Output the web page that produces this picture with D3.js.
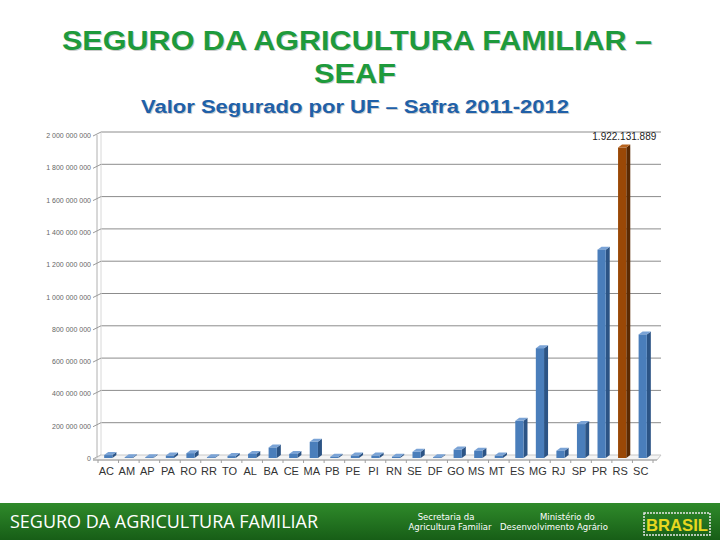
<!DOCTYPE html>
<html>
<head>
<meta charset="utf-8">
<script src="https://cdn.jsdelivr.net/npm/d3@7"></script>
<style>
  body { margin: 0; background: #fff; }
  svg { display: block; }
</style>
</head>
<body>
<svg id="chart"></svg>
<script>
var width = 720,
    height = 540;

// valores (R$)
var ufs = ["AC","AM","AP","PA","RO","RR","TO","AL","BA","CE","MA","PB","PE","PI","RN","SE","DF","GO","MS","MT","ES","MG","RJ","SP","PR","RS","SC"];
var valores = [18e6, 5e6, 5e6, 15e6, 30e6, 5e6, 12e6, 25e6, 65e6, 25e6, 100e6, 8e6, 15e6, 15e6, 8e6, 38e6, 5e6, 52e6, 45e6, 15e6, 230e6, 680e6, 45e6, 210e6, 1290e6, 1922131889, 765e6];
var yTicks = [0, 200e6, 400e6, 600e6, 800e6, 1000e6, 1200e6, 1400e6, 1600e6, 1800e6, 2000e6];
var destaque = "RS";
var rotuloDestaque = "1.922.131.889";

var svg = d3.select("#chart")
    .attr("width", width)
    .attr("height", height);

// titulos
var titulos = svg.append("g")
    .style("font-family", "'Liberation Sans', Arial, sans-serif")
    .style("font-weight", "bold")
    .attr("text-anchor", "middle");

function sombra(txt, x, y, size, color, len) {
    [[1, "#9a9a9a", 0.5], [0, color, 1]].forEach(function(s) {
        titulos.append("text").attr("x", x + s[0]).attr("y", y + s[0])
            .style("font-size", size + "px")
            .attr("fill", s[1]).attr("opacity", s[2])
            .attr("textLength", len).attr("lengthAdjust", "spacingAndGlyphs")
            .text(txt);
    });
}
sombra("SEGURO DA AGRICULTURA FAMILIAR \u2013", 357, 50, 27, "#1e9a3c", 590);
sombra("SEAF", 355, 83, 27, "#1e9a3c", 82);
sombra("Valor Segurado por UF \u2013 Safra 2011-2012", 355, 113, 18, "#2060a8", 428);

// escalas
var x = d3.scaleBand().domain(ufs).range([98, 653]).paddingInner(0.6).paddingOuter(0.3);
var y = d3.scaleLinear().domain([0, 2e9]).range([458, 135]);
var dx = 4, dy = -3;

var plot = svg.append("g");

// grade (parede de fundo)
plot.selectAll("line.grid")
    .data(yTicks.slice(1))
    .enter().append("line")
    .attr("class", "grid")
    .attr("x1", 97 + dx).attr("x2", 661)
    .attr("y1", function(d) { return y(d) + dy; })
    .attr("y2", function(d) { return y(d) + dy; })
    .attr("stroke", "#8c8c8c").attr("stroke-width", 1);

// eixo vertical
plot.append("line")
    .attr("x1", 97).attr("x2", 97)
    .attr("y1", y(2e9)).attr("y2", y(0) + 2)
    .attr("stroke", "#b0b0b0");
plot.append("line")
    .attr("x1", 97 + dx).attr("x2", 97 + dx)
    .attr("y1", y(2e9) + dy).attr("y2", y(0) + dy)
    .attr("stroke", "#d8d8d8");

// marcas diagonais e rotulos do eixo y
var fmt = function(d) { return d3.format(",")(d).replace(/,/g, " "); };
plot.selectAll("line.tk")
    .data(yTicks)
    .enter().append("line")
    .attr("class", "tk")
    .attr("x1", 93).attr("x2", 97 + dx)
    .attr("y1", function(d) { return y(d) + 1; })
    .attr("y2", function(d) { return y(d) + dy; })
    .attr("stroke", "#9a9a9a");
plot.selectAll("text.ylab")
    .data(yTicks)
    .enter().append("text")
    .attr("class", "ylab")
    .attr("x", 91)
    .attr("y", function(d) { return y(d) + 3; })
    .attr("text-anchor", "end")
    .style("font-family", "'Liberation Sans', Arial, sans-serif")
    .style("font-size", "7px")
    .attr("fill", "#666")
    .text(fmt);

// piso
var piso = [[93, y(0) + 2], [97 + dx, y(0) + dy], [661, y(0) + dy], [657, y(0) + 2]];
plot.append("path")
    .attr("d", "M" + piso.join("L") + "Z")
    .attr("fill", "#f4f4f4").attr("stroke", "#c8c8c8");
plot.append("line")
    .attr("x1", 93).attr("x2", 657)
    .attr("y1", y(0) + 2).attr("y2", y(0) + 2)
    .attr("stroke", "#a0a0a0");
plot.selectAll("line.xt")
    .data(ufs.concat(["fim"]))
    .enter().append("line")
    .attr("class", "xt")
    .attr("x1", function(d, i) { return 98 + i * x.step(); })
    .attr("x2", function(d, i) { return 98 + i * x.step(); })
    .attr("y1", y(0) + 2).attr("y2", y(0) + 5)
    .attr("stroke", "#a0a0a0");

// barras 3d
var corFrente = function(d) { return d.uf === destaque ? "#9a4806" : "#4a7ebb"; };
var corLado = function(d) { return d.uf === destaque ? "#5a2a03" : "#2c5485"; };
var corTopo = function(d) { return d.uf === destaque ? "#b8641e" : "#7aa3d6"; };

var dados = ufs.map(function(u, i) { return { uf: u, v: valores[i] }; });
var barras = plot.selectAll("g.bar").data(dados).enter().append("g").attr("class", "bar");

barras.append("path")
    .attr("d", function(d) {
        var x0 = x(d.uf) + x.bandwidth(), y0 = y(d.v), y1 = y(0);
        return "M" + x0 + "," + y1 + "L" + x0 + "," + y0 + "L" + (x0 + dx) + "," + (y0 + dy) +
            "L" + (x0 + dx) + "," + (y1 + dy) + "Z";
    })
    .attr("fill", corLado);
barras.append("path")
    .attr("d", function(d) {
        var x0 = x(d.uf), x1 = x0 + x.bandwidth(), y0 = y(d.v);
        return "M" + x0 + "," + y0 + "L" + (x0 + dx) + "," + (y0 + dy) + "L" + (x1 + dx) + "," + (y0 + dy) +
            "L" + x1 + "," + y0 + "Z";
    })
    .attr("fill", corTopo);
barras.append("rect")
    .attr("x", function(d) { return x(d.uf); })
    .attr("y", function(d) { return y(d.v); })
    .attr("width", x.bandwidth())
    .attr("height", function(d) { return y(0) - y(d.v); })
    .attr("fill", corFrente);

// rotulo de valor
plot.append("text")
    .attr("x", x(destaque) + x.bandwidth() + 30)
    .attr("y", y(1922131889) - 8)
    .attr("text-anchor", "end")
    .style("font-family", "'Liberation Sans', Arial, sans-serif")
    .style("font-size", "10px")
    .attr("fill", "#222")
    .text(rotuloDestaque);

// rotulos do eixo x
plot.selectAll("text.xlab")
    .data(ufs)
    .enter().append("text")
    .attr("class", "xlab")
    .attr("x", function(d) { return x(d) + x.bandwidth() / 2 - 2; })
    .attr("y", 475)
    .attr("text-anchor", "middle")
    .style("font-family", "'Liberation Sans', Arial, sans-serif")
    .style("font-size", "11px")
    .attr("fill", "#333")
    .text(function(d) { return d; });

// rodape
var grad = svg.append("defs").append("linearGradient")
    .attr("id", "rodape").attr("x1", 0).attr("y1", 0).attr("x2", 0).attr("y2", 1);
grad.append("stop").attr("offset", "0%").attr("stop-color", "#2f8a2a");
grad.append("stop").attr("offset", "100%").attr("stop-color", "#175e17");
svg.append("rect")
    .attr("x", 0).attr("y", 503).attr("width", width).attr("height", 37)
    .attr("fill", "url(#rodape)");
svg.append("text")
    .attr("x", 10).attr("y", 528)
    .style("font-family", "'Open Sans', sans-serif")
    .style("font-size", "18px")
    .attr("fill", "#fff")
    .attr("textLength", 308).attr("lengthAdjust", "spacingAndGlyphs")
    .text("SEGURO DA AGRICULTURA FAMILIAR");

var logos = svg.append("g")
    .style("font-family", "'DejaVu Sans', sans-serif")
    .style("font-size", "8.5px")
    .attr("fill", "#fff");
logos.append("text").attr("x", 446).attr("y", 520).attr("text-anchor", "middle").text("Secretaria da");
logos.append("text").attr("x", 450).attr("y", 530).attr("text-anchor", "middle").text("Agricultura Familiar");
logos.append("text").attr("x", 540).attr("y", 520).attr("text-anchor", "start").text("Ministério do");
logos.append("text").attr("x", 500).attr("y", 530).text("Desenvolvimento Agrário");

var marca = svg.append("g");
marca.append("rect").attr("x", 644).attr("y", 513).attr("width", 66).attr("height", 22)
    .attr("fill", "none").attr("stroke", "#e8e8e8").attr("stroke-width", 1.5)
    .attr("stroke-dasharray", "2,1");
marca.append("text").attr("x", 677).attr("y", 531).attr("text-anchor", "middle")
    .style("font-family", "'Liberation Sans', Arial, sans-serif")
    .style("font-weight", "bold").style("font-size", "17px")
    .attr("fill", "#e8d820")
    .attr("textLength", 62).attr("lengthAdjust", "spacingAndGlyphs")
    .text("BRASIL");
</script>
</body>
</html>
